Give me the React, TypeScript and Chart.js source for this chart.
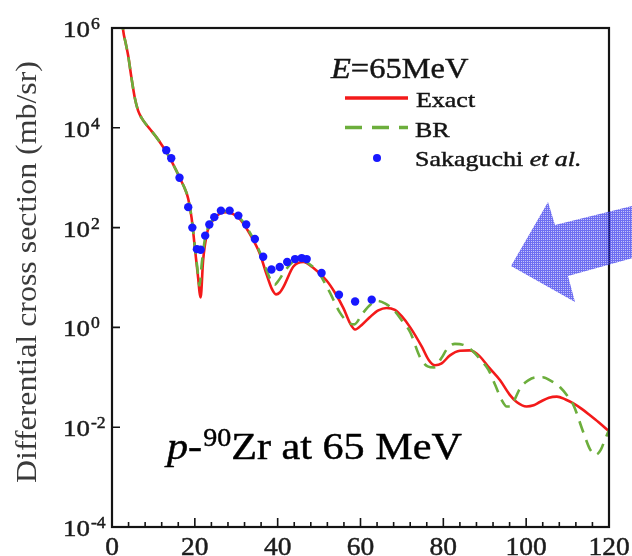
import { useEffect, useRef } from 'react';
import { Chart, registerables } from 'chart.js';

Chart.register(...registerables);

// Elastic p-90Zr differential cross section (mb/sr) vs c.m. angle (deg)
const exactAngle = [
  2.0, 2.7, 3.3, 3.9, 4.7, 5.5, 6.3, 7.1, 8.3, 9.5, 10.7, 11.9, 13.1, 14.3, 15.5, 16.7, 17.6, 18.4,
  19.2, 20.0, 20.7, 21.4, 22.0, 22.9, 24.5, 26.0, 27.7, 29.3, 30.9, 33.3, 35.7, 37.3, 38.6, 39.6,
  40.5, 41.4, 43.8, 46.2, 48.5, 51.8, 53.8, 55.9, 57.5, 58.7, 60.3, 62.3, 64.3, 66.3, 68.3, 70.0,
  72.0, 74.8, 76.5, 78.0, 79.6, 81.6, 84.0, 86.4, 88.8, 91.0, 93.7, 96.0, 97.7, 100.1, 101.8,
  103.3, 105.5, 107.4, 109.5, 111.4, 113.5, 115.4, 117.5, 120.0,
];
const exactXs = [
  4.0e6, 8.9e5, 5.0e5, 2.8e5, 1.0e5, 4.0e4, 2.2e4, 1.6e4, 1.15e4, 8.7e3, 6.5e3, 4.7e3, 3.3e3, 2.2e3, 1.4e3, 870, 600, 380,
  160, 40, 11.7, 4.0, 22, 74, 145, 190, 204, 186, 148, 74, 30, 11.7, 5.9, 4.6,
  5.0, 6.5, 16.6, 20.4, 15.8, 8.7, 5.0, 2.4, 1.2, 0.91, 1.12, 1.62, 2.19, 2.45, 2.24, 1.66,
  1.0, 0.41, 0.22, 0.174, 0.19, 0.275, 0.34, 0.347, 0.263, 0.158, 0.087, 0.045, 0.032, 0.026, 0.0275,
  0.032, 0.039, 0.041, 0.036, 0.030, 0.023, 0.0174, 0.0126, 0.0083,
];

const brAngle = [
  2.0, 2.7, 3.3, 3.9, 4.7, 5.5, 6.3, 7.1, 8.3, 9.5, 10.7, 11.9, 13.1, 14.3, 15.5, 16.7, 17.6, 18.4,
  19.2, 20.0, 20.6, 21.1, 21.7, 22.5, 24.5, 27.5, 30.9, 33.3, 35.7, 37.3, 38.5, 39.3, 40.3, 41.5,
  43.5, 45.4, 47.5, 50.0, 52.5, 55.0, 57.0, 58.5, 60.5, 62.5, 64.0, 66.0, 68.0, 70.0, 72.0, 74.4,
  76.2, 77.8, 79.5, 81.0, 82.8, 84.8, 87.2, 89.0, 90.9, 92.5, 94.1, 95.3, 96.3, 97.5, 98.5, 100.5,
  102.5, 104.0, 106.0, 108.2, 110.0, 111.4, 113.8, 115.5, 116.8, 118.0, 119.0, 120.0,
];
const brXs = [
  4.0e6, 8.9e5, 5.0e5, 2.8e5, 1.0e5, 4.0e4, 2.2e4, 1.6e4, 1.15e4, 8.7e3, 6.5e3, 4.7e3, 3.3e3, 2.2e3, 1.4e3, 870, 600, 380,
  160, 42, 15.8, 6.9, 20, 63, 151, 214, 155, 79, 32, 14.1, 8.3, 7.2, 8.9, 12.6,
  20, 22.9, 19, 12, 5.2, 2.0, 1.26, 1.15, 1.9, 2.9, 3.4, 3.0, 2.24, 1.38, 0.8, 0.25,
  0.166, 0.158, 0.24, 0.38, 0.468, 0.447, 0.33, 0.224, 0.141, 0.071, 0.035, 0.026, 0.026, 0.04, 0.06, 0.087,
  0.1, 0.1, 0.085, 0.063, 0.042, 0.028, 0.0079, 0.0035, 0.0028, 0.0035, 0.0056, 0.0087,
];

const dataAngle = [
  13.1, 14.3, 16.3, 18.4, 19.4, 20.5, 21.4, 22.5, 23.5, 24.7, 26.3, 28.4, 30.5, 32.4, 34.5, 36.5,
  38.5, 40.5, 42.3, 44.2, 45.8, 47.0, 50.6, 54.8, 58.7, 62.7,
];
const dataXs = [
  3550, 2450, 1000, 257, 100, 37, 36, 69, 115, 162, 219, 219, 174, 115, 59, 26,
  14.5, 16.2, 20.4, 23.4, 24.5, 23.4, 12.3, 4.5, 3.3, 3.6,
];

const xTickValues = [0, 20, 40, 60, 80, 100, 120];
const yTickExponents = [-4, -2, 0, 2, 4, 6];

const SERIF = '"Liberation Serif", "Times New Roman", serif';
const RED = '#f31a1a';
const GREEN = '#6cae3c';
const BLUE = '#1818ff';

// Draws a run of text (optionally widened) and returns its advance width.
function txt(
  ctx: CanvasRenderingContext2D,
  text: string,
  x: number,
  y: number,
  size: number,
  sx = 1,
  style = '',
  align: CanvasTextAlign = 'left',
): number {
  ctx.save();
  ctx.font = `${style} ${size}px ${SERIF}`;
  ctx.translate(x, y);
  ctx.scale(sx, 1);
  ctx.textAlign = align;
  ctx.textBaseline = 'alphabetic';
  ctx.strokeStyle = ctx.fillStyle;
  ctx.lineWidth = 0.45;
  ctx.fillText(text, 0, 0);
  ctx.strokeText(text, 0, 0);
  const w = ctx.measureText(text).width * sx;
  ctx.restore();
  return w;
}

function arrowPattern(ctx: CanvasRenderingContext2D): CanvasPattern | string {
  const c = document.createElement('canvas');
  c.width = 2;
  c.height = 2;
  const p = c.getContext('2d');
  if (!p) return 'rgba(70,70,235,0.6)';
  p.fillStyle = 'rgba(60,60,236,0.74)';
  p.fillRect(0, 0, 2, 2);
  p.clearRect(1, 1, 1, 1);
  p.fillStyle = 'rgba(60,60,236,0.3)';
  p.fillRect(1, 1, 1, 1);
  return ctx.createPattern(c, 'repeat') || 'rgba(70,70,235,0.6)';
}

const framePlugin = {
  id: 'frameAndText',
  afterDatasetsDraw(chart: Chart) {
    const { ctx, chartArea } = chart;
    const xs = chart.scales.x;
    const ys = chart.scales.y;
    const { left, right, top, bottom } = chartArea;
    ctx.save();

    // frame
    ctx.strokeStyle = '#141414';
    ctx.lineWidth = 2.2;
    ctx.strokeRect(left, top, right - left, bottom - top);

    // inward ticks
    ctx.lineWidth = 1.6;
    ctx.beginPath();
    for (const e of yTickExponents) {
      const y = ys.getPixelForValue(Math.pow(10, e));
      ctx.moveTo(left, y);
      ctx.lineTo(left + 8, y);
    }
    for (let v = 4; v < 120; v += 4) {
      const x = xs.getPixelForValue(v);
      const len = v % 20 === 0 ? 9 : 5;
      ctx.moveTo(x, bottom);
      ctx.lineTo(x, bottom - len);
    }
    ctx.stroke();

    // tick labels
    ctx.fillStyle = '#1c1c1c';
    for (const e of yTickExponents) {
      const y = ys.getPixelForValue(Math.pow(10, e));
      const w = txt(ctx, '10', 63, y + 9, 24, 1.12);
      txt(ctx, e < 0 ? '-' + Math.abs(e) : String(e), 63 + w + 1, y + 1, 16, 1.1);
    }
    for (const v of xTickValues) {
      txt(ctx, String(v), xs.getPixelForValue(v), 555, 25, 1.1, '', 'center');
    }

    // axis title
    ctx.save();
    ctx.fillStyle = '#3a3a3a';
    ctx.translate(28, 272);
    ctx.rotate(-Math.PI / 2);
    ctx.scale(1.1, 1);
    ctx.font = `29px ${SERIF}`;
    ctx.textAlign = 'center';
    ctx.textBaseline = 'middle';
    ctx.fillText('Differential cross section (mb/sr)', 0, 0);
    ctx.restore();

    // legend
    ctx.fillStyle = '#141414';
    let lx = 331;
    lx += txt(ctx, 'E', lx, 78, 29, 1.12, 'italic');
    txt(ctx, '=65MeV', lx, 78, 29, 1.12);

    ctx.lineWidth = 3.5;
    ctx.strokeStyle = RED;
    ctx.beginPath();
    ctx.moveTo(345, 98);
    ctx.lineTo(408, 98);
    ctx.stroke();
    txt(ctx, 'Exact', 416, 107, 22, 1.18);

    ctx.strokeStyle = GREEN;
    ctx.setLineDash([17, 10]);
    ctx.beginPath();
    ctx.moveTo(345, 127.5);
    ctx.lineTo(408, 127.5);
    ctx.stroke();
    ctx.setLineDash([]);
    txt(ctx, 'BR', 415, 137, 22, 1.18);

    ctx.fillStyle = BLUE;
    ctx.beginPath();
    ctx.arc(377, 158, 4, 0, Math.PI * 2);
    ctx.fill();
    ctx.fillStyle = '#141414';
    let sx = 415;
    sx += txt(ctx, 'Sakaguchi ', sx, 166, 22, 1.18);
    txt(ctx, 'et al.', sx, 166, 22, 1.18, 'italic');

    // reaction label
    ctx.fillStyle = '#000';
    let ax = 167;
    ax += txt(ctx, 'p', ax, 459, 37, 1.14, 'italic');
    ax += txt(ctx, '-', ax, 459, 37, 1.14);
    ax += txt(ctx, '90', ax + 1, 446, 25, 1.12) + 1;
    txt(ctx, 'Zr at 65 MeV', ax, 459, 37, 1.14);

    ctx.restore();
  },
  afterDraw(chart: Chart) {
    const { ctx } = chart;
    ctx.save();
    ctx.fillStyle = arrowPattern(ctx);
    ctx.beginPath();
    ctx.moveTo(511, 266);
    ctx.lineTo(548, 202);
    ctx.lineTo(555, 225);
    ctx.lineTo(640, 204);
    ctx.lineTo(640, 256);
    ctx.lineTo(568, 276);
    ctx.lineTo(575, 302);
    ctx.closePath();
    ctx.fill();
    ctx.restore();
  },
};

export default function App() {
  const ref = useRef<HTMLCanvasElement | null>(null);

  useEffect(() => {
    if (!ref.current) return;
    const chart = new Chart(ref.current, {
      type: 'line',
      data: {
        datasets: [
          {
            label: 'Sakaguchi et al.',
            data: dataAngle.map((x, i) => ({ x, y: dataXs[i] })),
            showLine: false,
            pointRadius: 4.2,
            pointBackgroundColor: BLUE,
            pointBorderWidth: 0,
            borderColor: BLUE,
            order: 0,
          },
          {
            label: 'BR',
            data: brAngle.map((x, i) => ({ x, y: brXs[i] })),
            borderColor: GREEN,
            borderWidth: 2.6,
            borderDash: [12, 8],
            pointRadius: 0,
            cubicInterpolationMode: 'monotone',
            order: 1,
          },
          {
            label: 'Exact',
            data: exactAngle.map((x, i) => ({ x, y: exactXs[i] })),
            borderColor: RED,
            borderWidth: 2.6,
            pointRadius: 0,
            cubicInterpolationMode: 'monotone',
            order: 2,
          },
        ],
      },
      options: {
        animation: false,
        responsive: false,
        layout: { padding: { left: 112, top: 28, right: 23, bottom: 29 } },
        scales: {
          x: { type: 'linear', min: 0, max: 120, display: false },
          y: { type: 'logarithmic', min: 1e-4, max: 1e6, display: false },
        },
        plugins: { legend: { display: false }, tooltip: { enabled: false } },
      },
      plugins: [framePlugin],
    });
    return () => chart.destroy();
  }, []);

  return (
    <div style={{ position: 'fixed', left: 0, top: 0, width: 632, height: 556, background: '#fff' }}>
      <canvas ref={ref} width={632} height={556} style={{ width: 632, height: 556, display: 'block' }} />
    </div>
  );
}
